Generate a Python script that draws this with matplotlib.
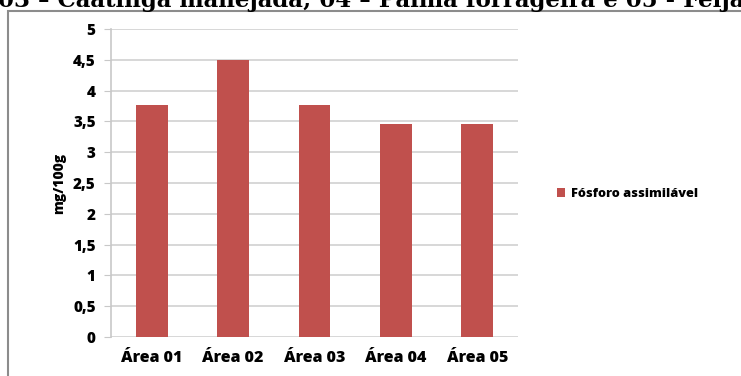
import matplotlib.pyplot as plt
from matplotlib.patches import Rectangle

# fósforo assimilável por área (mg/100g)
areas = ['Área 01', 'Área 02', 'Área 03', 'Área 04', 'Área 05']
fosforo = [3.76, 4.50, 3.76, 3.46, 3.45]
yticks = [0, 0.5, 1, 1.5, 2, 2.5, 3, 3.5, 4, 4.5, 5]
ytick_labels = ['0', '0,5', '1', '1,5', '2', '2,5', '3', '3,5', '4', '4,5', '5']

W, H = 741, 376
fig = plt.figure(figsize=(W / 100, H / 100), dpi=100)
fig.patch.set_facecolor('white')

# line of the caption above the chart, cut at the top edge
fig.text(-2 / W, 1 - 7 / H, '03 – Caatinga manejada; 04 – Palma forrageira e 05 - Feijão',
         fontsize=16.5, fontweight='bold', family='DejaVu Serif', va='baseline', ha='left')

# chart frame
frame = Rectangle((8 / W, -0.2), 1.2, 0.2 + 1 - 11 / H, transform=fig.transFigure,
                  fill=False, edgecolor='#8c8c8c', linewidth=1.5)
fig.patches.append(frame)

ax = fig.add_axes([111 / W, 1 - 337 / H, (518 - 111) / W, (337 - 29) / H])
x = range(len(areas))
ax.bar(x, fosforo, width=0.39, color='#c0504d', label='Fósforo assimilável', zorder=3)

ax.set_xlim(-0.5, len(areas) - 0.5)
ax.set_ylim(0, 5)
ax.set_yticks(yticks)
ax.set_yticklabels(ytick_labels)
ax.set_xticks(list(x))
ax.set_xticklabels(areas)

ax.yaxis.grid(True, color='#d4d4d4', linewidth=1.3, zorder=0)
for s in ['top', 'right', 'bottom']:
    ax.spines[s].set_visible(False)
ax.spines['left'].set_color('#c8c8c8')
ax.spines['left'].set_linewidth(1.2)
ax.tick_params(axis='y', length=5, color='#c8c8c8', pad=6, labelsize=11)
ax.tick_params(axis='x', length=0, pad=9, labelsize=11.5)
for lbl in ax.get_yticklabels() + ax.get_xticklabels():
    lbl.set_fontweight('heavy')
    lbl.set_family('Open Sans')

ax.set_ylabel('mg/100g', fontsize=10, fontweight='heavy', family='Open Sans', labelpad=5)

ax.legend(loc='center left', bbox_to_anchor=(545 / W, 1 - 194 / H), bbox_transform=fig.transFigure,
          frameon=False, handlelength=0.65, handleheight=0.65, handletextpad=0.45,
          prop={'family': 'Open Sans', 'weight': 'heavy', 'size': 9.2})

fig.savefig('out.png', dpi=100)
